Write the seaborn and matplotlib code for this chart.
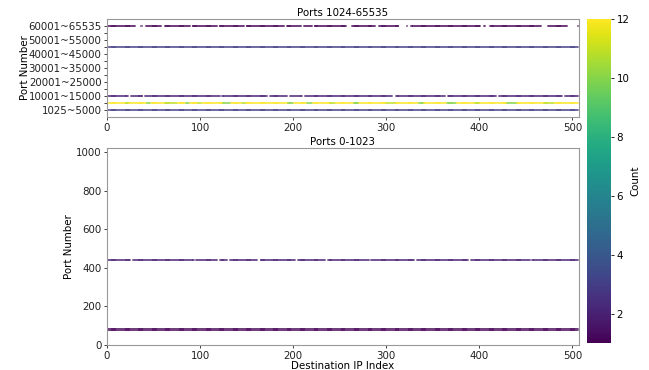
import numpy as np
import pandas as pd
import seaborn as sns
import matplotlib.pyplot as plt
from matplotlib.cm import ScalarMappable
from matplotlib.colors import Normalize

# Number of destination IPs on the x axis
N_IPS = 507

# Upper panel: ports 1024-65535 grouped into 13 bins of ~5000 ports
high_bin_labels = ["1025~5000", "5001~10000", "10001~15000", "15001~20000",
                   "20001~25000", "25001~30000", "30001~35000", "35001~40000",
                   "40001~45000", "45001~50000", "50001~55000", "55001~60000",
                   "60001~65535"]
high_rows_bin = [0, 1, 2, 9, 12]
high_rows_count = [3, 12, 2, 3, 1]
high_rows_gaps = [
    [],
    [],
    [(23, 25), (39, 40), (122, 123), (173, 174), (194, 196), (210, 212),
     (307, 310), (364, 365), (419, 420), (490, 491)],
    [],
    [(31, 36), (38, 41), (59, 61), (90, 91), (119, 120), (148, 149), (191, 192),
     (209, 211), (221, 222), (258, 262), (289, 291), (314, 321), (323, 326),
     (402, 404), (407, 411), (467, 473), (495, 505)],
]
# spots on the 5001~10000 row where the count drops below 12
yellow_dips = [(20, 23, 11), (43, 46, 10), (62, 75, 11), (85, 88, 10), (98, 101, 11),
               (125, 132, 10), (145, 149, 11), (195, 200, 10), (215, 220, 10),
               (240, 245, 11), (265, 270, 10), (300, 310, 11), (335, 340, 10),
               (365, 375, 10), (395, 400, 11), (430, 440, 10), (470, 480, 11)]

# Lower panel: well-known ports 0-1023
low_rows_port = [80, 443]
low_rows_count = [1, 2]
low_rows_gaps = [
    [],
    [(26, 27), (94, 95), (119, 121), (130, 131), (162, 164), (203, 204),
     (235, 237), (282, 283), (331, 332), (389, 390), (455, 456)],
]


def build_rows(rows_y, rows_count, rows_gaps):
    frames = []
    ips = np.arange(N_IPS)
    for y, c, gaps in zip(rows_y, rows_count, rows_gaps):
        keep = np.ones(N_IPS, dtype=bool)
        for a, b in gaps:
            keep[a:b + 1] = False
        counts = np.full(N_IPS, c)
        frames.append(pd.DataFrame({"ip": ips[keep], "port": y, "count": counts[keep]}))
    return pd.concat(frames, ignore_index=True)


high = build_rows(high_rows_bin, high_rows_count, high_rows_gaps)
for a, b, c in yellow_dips:
    sel = (high["port"] == 1) & (high["ip"] >= a) & (high["ip"] <= b)
    high.loc[sel, "count"] = c
low = build_rows(low_rows_port, low_rows_count, low_rows_gaps)

plt.rcParams["font.size"] = 7.4

norm = Normalize(vmin=1, vmax=12)
W, H = 649, 370
fig = plt.figure(figsize=(W / 100, H / 100), dpi=100)
ax1 = fig.add_axes([107 / W, 1 - 117 / H, 472 / W, 98 / H])
ax2 = fig.add_axes([107 / W, 1 - 345 / H, 472 / W, 197 / H])
cax = fig.add_axes([587 / W, 1 - 343 / H, 24 / W, 324 / H])

kw = dict(x="ip", y="port", hue="count", palette="viridis", hue_norm=norm,
          marker="s", s=2.5, linewidth=0, alpha=0.5, legend=False)
sns.scatterplot(data=high, ax=ax1, **kw)
sns.scatterplot(data=low, ax=ax2, **kw)

ax1.set_xlim(0, N_IPS)
ax1.set_ylim(-1, 13)
ax1.set_yticks(range(len(high_bin_labels)))
ax1.set_yticklabels([lab if i % 2 == 0 else "" for i, lab in enumerate(high_bin_labels)])
ax1.set_xticks([0, 100, 200, 300, 400, 500])
ax1.set_xlabel("")
ax1.set_ylabel("Port Number", labelpad=-1)
ax1.set_title("Ports 1024-65535", fontsize=7.4, pad=2)

ax2.set_xlim(0, N_IPS)
ax2.set_ylim(0, 1023)
ax2.set_xticks([0, 100, 200, 300, 400, 500])
ax2.set_yticks([0, 200, 400, 600, 800, 1000])
ax2.set_xlabel("Destination IP Index", labelpad=0)
ax2.set_ylabel("Port Number", labelpad=1)
ax2.set_title("Ports 0-1023", fontsize=7.4, pad=2)

for ax in (ax1, ax2):
    ax.tick_params(length=2.5, width=0.6, pad=1.5, colors="#222222")
    for sp in ax.spines.values():
        sp.set_color("#999999")
        sp.set_linewidth(0.8)

sm = ScalarMappable(norm=norm, cmap="viridis")
cb = fig.colorbar(sm, cax=cax)
cb.set_ticks([2, 4, 6, 8, 10, 12])
cb.set_label("Count", labelpad=1)
cb.ax.tick_params(length=2.5, width=0.6, pad=1.5)
cb.outline.set_linewidth(0)

fig.savefig("out.png", dpi=100)
